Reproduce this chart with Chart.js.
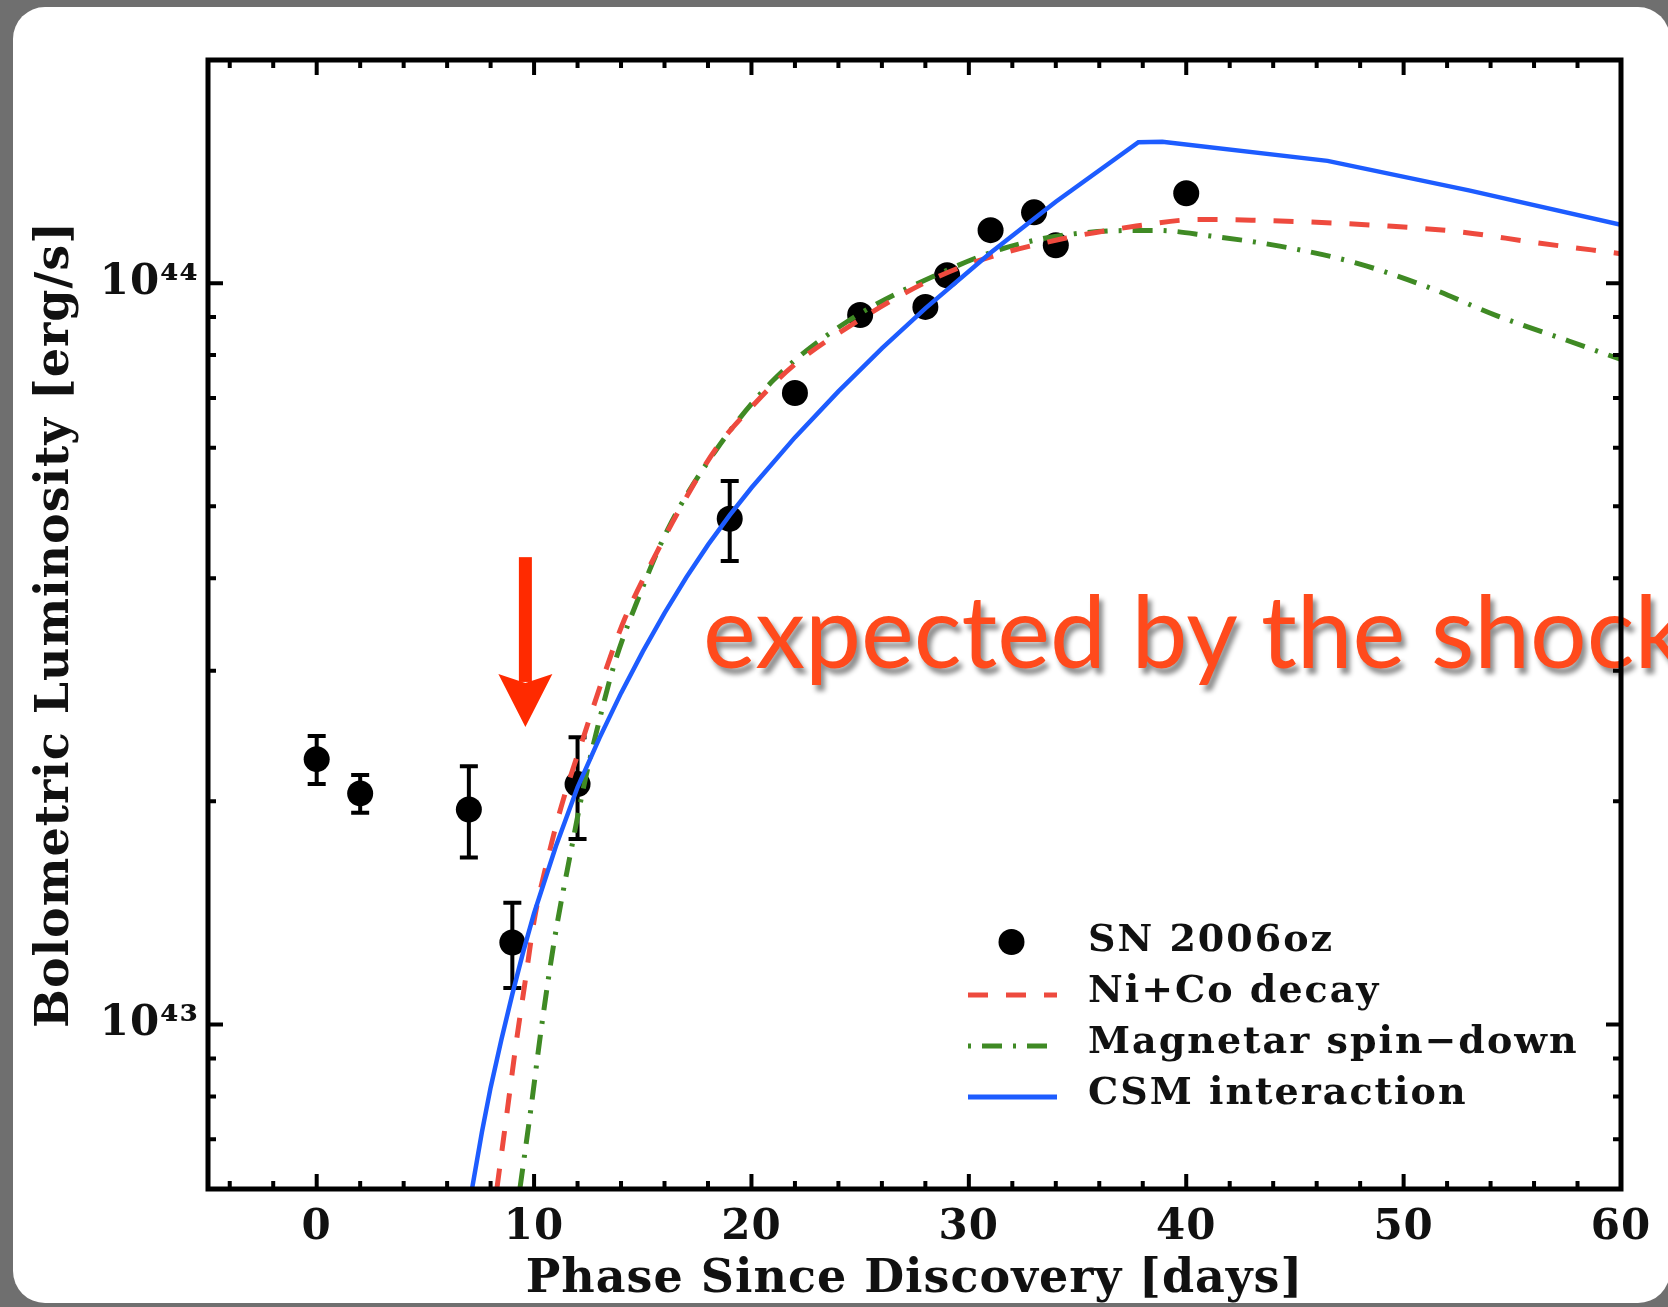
<!DOCTYPE html>
<html>
<head>
<meta charset="utf-8">
<title>SN 2006oz bolometric light curve</title>
<script src="https://cdn.jsdelivr.net/npm/chart.js@4/dist/chart.umd.min.js"></script>
<style>
  html, body { margin: 0; padding: 0; }
  body {
    width: 1668px;
    height: 1307px;
    overflow: hidden;
    position: relative;
    background: #6f6f6f;
  }
  #card {
    position: absolute;
    left: 13px;
    top: 7px;
    width: 1657px;
    height: 1296px;
    background: #fff;
    border-radius: 32px;
  }
  #note {
    position: absolute;
    left: 703px;
    top: 579px;
    z-index: 1;
    font-family: Lato, "Open Sans", sans-serif;
    font-size: 100px;
    line-height: 100px;
    color: #ff4a1c;
    white-space: nowrap;
    text-shadow: 4px 6px 5px rgba(0, 0, 0, 0.45);
  }
  #chart { position: absolute; left: 0; top: 0; z-index: 2; }
</style>
</head>
<body>
<div id="card"></div>
<div id="note">expected by the shock</div>
<canvas id="chart" width="1668" height="1307"></canvas>
<script>
// observed points (erg/s)
const obsDays = [0, 2, 7, 9, 12, 19, 22, 25, 28, 29, 31, 33, 34, 40];
const obsLum = [2.28e43, 2.05e43, 1.95e43, 1.29e43, 2.11e43, 4.81e43, 7.11e43, 9.06e43, 9.29e43, 1.025e44, 1.179e44, 1.246e44, 1.125e44, 1.322e44];
const obsHi = [2.45e43, 2.17e43, 2.23e43, 1.46e43, 2.44e43, 5.41e43, null, null, null, null, null, null, null, null];
const obsLo = [2.11e43, 1.93e43, 1.68e43, 1.12e43, 1.78e43, 4.22e43, null, null, null, null, null, null, null, null];

// Ni+Co decay model
const niDays = [8.29, 8.75, 9.2, 9.6, 10.0, 10.6, 11.25, 12.3, 13.2, 14.15, 15.7, 16.6, 18.35, 20.1, 21.9, 25, 28, 30.6, 34.2, 37.7, 40.6, 43, 46, 49.3, 52.7, 56, 60];
const niLum = [6.01e42, 7.59e42, 9.55e42, 1.148e43, 1.38e43, 1.66e43, 1.968e43, 2.455e43, 2.951e43, 3.516e43, 4.365e43, 4.898e43, 5.97e43, 6.855e43, 7.727e43, 8.933e43, 1.002e44, 1.076e44, 1.146e44, 1.194e44, 1.219e44, 1.216e44, 1.208e44, 1.194e44, 1.172e44, 1.135e44, 1.096e44];

// magnetar spin-down model
const mgDays = [9.35, 9.87, 10.31, 10.94, 11.71, 12.32, 12.93, 13.7, 14.77, 16.15, 18.35, 21, 24.5, 28.9, 31.5, 34.2, 37.7, 38.7, 41, 44.3, 47.7, 51, 54.3, 57.6, 60];
const mgLum = [6.01e42, 7.76e42, 9.77e42, 1.303e43, 1.722e43, 2.118e43, 2.523e43, 3.069e43, 3.741e43, 4.656e43, 5.943e43, 7.396e43, 8.913e43, 1.038e44, 1.112e44, 1.159e44, 1.178e44, 1.178e44, 1.159e44, 1.122e44, 1.067e44, 9.908e43, 9.036e43, 8.356e43, 7.889e43];

// CSM interaction model
const csmDays = [7.15, 7.6, 8, 8.5, 9, 9.5, 10, 11, 12, 13, 14, 15, 16, 17, 18, 19, 20, 22, 24, 26, 28, 31, 34, 37.8, 38.9, 46.5, 53, 60];
const csmLum = [6.01e42, 7.16e42, 8.22e42, 9.55e42, 1.099e43, 1.253e43, 1.413e43, 1.738e43, 2.089e43, 2.432e43, 2.799e43, 3.184e43, 3.589e43, 4.009e43, 4.436e43, 4.864e43, 5.297e43, 6.194e43, 7.145e43, 8.166e43, 9.247e43, 1.099e44, 1.288e44, 1.549e44, 1.552e44, 1.462e44, 1.334e44, 1.199e44];

// axis ticks
const xMajor = [0, 10, 20, 30, 40, 50, 60];
const xMinor = [-4, -2, 2, 4, 6, 8, 12, 14, 16, 18, 22, 24, 26, 28, 32, 34, 36, 38, 42, 44, 46, 48, 52, 54, 56, 58];
const yMajor = [1e43, 1e44];
const yMajorLabels = ["10\u2074\u00b3", "10\u2074\u2074"];
const yMinor = [7e42, 8e42, 9e42, 2e43, 3e43, 4e43, 5e43, 6e43, 7e43, 8e43, 9e43];

// arrow annotation
const arrowDay = 9.6;
const arrowTop = 4.27e43;
const arrowTip = 2.52e43;

const ink = "#111";
const serif = "'DejaVu Serif', 'Liberation Serif', serif";

function toXY(xs, ys) {
  return xs.map((x, i) => ({ x: x, y: ys[i] }));
}

function sortedTicks(a, b) {
  return a.concat(b).sort((p, q) => p - q).map((v) => ({ value: v }));
}

// wider letters, like the original typeface
const spacing = {
  id: "spacing",
  beforeDraw(chart) {
    chart.ctx.letterSpacing = "1px";
  },
};

// error bars
const errorBars = {
  id: "errorBars",
  beforeDatasetsDraw(chart) {
    const { ctx, scales: { x, y } } = chart;
    ctx.save();
    ctx.strokeStyle = "#000";
    ctx.lineWidth = 4;
    obsDays.forEach((d, i) => {
      if (obsHi[i] == null) return;
      const px = x.getPixelForValue(d);
      const top = y.getPixelForValue(obsHi[i]);
      const bot = y.getPixelForValue(obsLo[i]);
      ctx.beginPath();
      ctx.moveTo(px, top);
      ctx.lineTo(px, bot);
      ctx.moveTo(px - 9, top);
      ctx.lineTo(px + 9, top);
      ctx.moveTo(px - 9, bot);
      ctx.lineTo(px + 9, bot);
      ctx.stroke();
    });
    ctx.restore();
  },
};

// red arrow
const arrow = {
  id: "arrow",
  afterDatasetsDraw(chart) {
    const { ctx, scales: { x, y } } = chart;
    const px = x.getPixelForValue(arrowDay);
    const top = y.getPixelForValue(arrowTop);
    const tip = y.getPixelForValue(arrowTip);
    const base = tip - 53;
    ctx.save();
    ctx.fillStyle = "#ff2a00";
    ctx.fillRect(px - 6.5, top, 13, base - top + 8);
    ctx.beginPath();
    ctx.moveTo(px - 27, base);
    ctx.lineTo(px, base + 9);
    ctx.lineTo(px + 27, base);
    ctx.lineTo(px, tip);
    ctx.closePath();
    ctx.fill();
    ctx.restore();
  },
};

// box frame with inward ticks on all sides
const frame = {
  id: "frame",
  afterDraw(chart) {
    const { ctx, chartArea: a, scales: { x, y } } = chart;
    ctx.save();
    ctx.strokeStyle = "#000";
    ctx.lineWidth = 4;
    ctx.beginPath();
    const tick = (vals, len) => {
      vals.forEach((v) => {
        const px = x.getPixelForValue(v);
        ctx.moveTo(px, a.bottom);
        ctx.lineTo(px, a.bottom - len);
        ctx.moveTo(px, a.top);
        ctx.lineTo(px, a.top + len);
      });
    };
    const tickY = (vals, len) => {
      vals.forEach((v) => {
        const py = y.getPixelForValue(v);
        ctx.moveTo(a.left, py);
        ctx.lineTo(a.left + len, py);
        ctx.moveTo(a.right, py);
        ctx.lineTo(a.right - len, py);
      });
    };
    tick(xMajor, 15);
    tick(xMinor, 8);
    tickY(yMajor, 15);
    tickY(yMinor, 8);
    ctx.stroke();
    ctx.lineWidth = 5;
    ctx.strokeRect(a.left, a.top, a.right - a.left, a.bottom - a.top);
    ctx.restore();
  },
};

// legend in the lower right of the plot
const boxLegend = {
  id: "boxLegend",
  afterDraw(chart) {
    const ctx = chart.ctx;
    const rows = [941, 992, 1043, 1094];
    const x0 = 968;
    const x1 = 1057;
    ctx.save();
    chart.data.datasets.forEach((ds, i) => {
      const yy = rows[i];
      if (ds.showLine === false) {
        ctx.fillStyle = "#000";
        ctx.beginPath();
        ctx.arc((x0 + x1) / 2 - 1, yy + 1, 13, 0, Math.PI * 2);
        ctx.fill();
      } else {
        ctx.strokeStyle = ds.borderColor;
        ctx.lineWidth = 5;
        ctx.setLineDash(ds.borderDash || []);
        ctx.lineDashOffset = ds.legendDashOffset || 0;
        ctx.beginPath();
        ctx.moveTo(x0, yy + 3);
        ctx.lineTo(x1, yy + 3);
        ctx.stroke();
        ctx.setLineDash([]);
      }
      ctx.fillStyle = ink;
      ctx.font = "bold 38px " + serif;
      ctx.letterSpacing = "2px";
      ctx.textBaseline = "middle";
      ctx.textAlign = "left";
      ctx.fillText(ds.label, 1088, yy);
    });
    ctx.restore();
  },
};

new Chart(document.getElementById("chart"), {
  type: "line",
  data: {
    datasets: [
      {
        label: "SN 2006oz",
        data: toXY(obsDays, obsLum),
        showLine: false,
        pointRadius: 13,
        pointBackgroundColor: "#000",
        pointBorderWidth: 0,
        order: 4,
      },
      {
        label: "Ni+Co decay",
        data: toXY(niDays, niLum),
        borderColor: "#ee4a3e",
        borderWidth: 5,
        borderDash: [20, 18],
        pointRadius: 0,
        cubicInterpolationMode: "monotone",
        order: 2,
      },
      {
        label: "Magnetar spin\u2212down",
        data: toXY(mgDays, mgLum),
        borderColor: "#3f8a24",
        borderWidth: 5,
        borderDash: [20, 11, 3, 11],
        legendDashOffset: 31,
        pointRadius: 0,
        cubicInterpolationMode: "monotone",
        order: 3,
      },
      {
        label: "CSM interaction",
        data: toXY(csmDays, csmLum),
        borderColor: "#1d5cff",
        borderWidth: 4.5,
        pointRadius: 0,
        tension: 0,
        order: 1,
      },
    ],
  },
  options: {
    responsive: false,
    animation: false,
    events: [],
    layout: { padding: { left: 0, top: 60, right: 47, bottom: 0 } },
    plugins: {
      legend: { display: false },
      tooltip: { enabled: false },
    },
    scales: {
      x: {
        type: "linear",
        min: -5,
        max: 60,
        afterBuildTicks: (s) => {
          s.ticks = sortedTicks(xMajor, xMinor);
        },
        afterFit: (s) => {
          s.height = 118;
        },
        grid: { display: false, drawTicks: false },
        border: { display: false },
        ticks: {
          autoSkip: false,
          maxRotation: 0,
          padding: 14,
          color: ink,
          font: { family: serif, size: 42, weight: "bold" },
          callback: (v) => (xMajor.includes(v) ? String(v) : ""),
        },
        title: {
          display: true,
          text: "Phase Since Discovery [days]",
          color: ink,
          font: { family: serif, size: 46, weight: "bold", lineHeight: 1 },
          padding: { top: 0, bottom: 4 },
        },
      },
      y: {
        type: "logarithmic",
        min: 6e42,
        max: 2e44,
        afterBuildTicks: (s) => {
          s.ticks = sortedTicks(yMajor, yMinor);
        },
        afterFit: (s) => {
          s.width = 208;
        },
        grid: { display: false, drawTicks: false },
        border: { display: false },
        ticks: {
          autoSkip: false,
          padding: 9,
          color: ink,
          font: { family: serif, size: 42, weight: "bold" },
          callback: (v) => {
            const i = yMajor.indexOf(v);
            return i >= 0 ? yMajorLabels[i] : "";
          },
        },
        title: {
          display: true,
          text: "Bolometric Luminosity [erg/s]",
          color: ink,
          font: { family: serif, size: 46, weight: "bold", lineHeight: 1 },
          padding: { top: 33, bottom: 0 },
        },
      },
    },
  },
  plugins: [spacing, errorBars, arrow, frame, boxLegend],
});
</script>
</body>
</html>
